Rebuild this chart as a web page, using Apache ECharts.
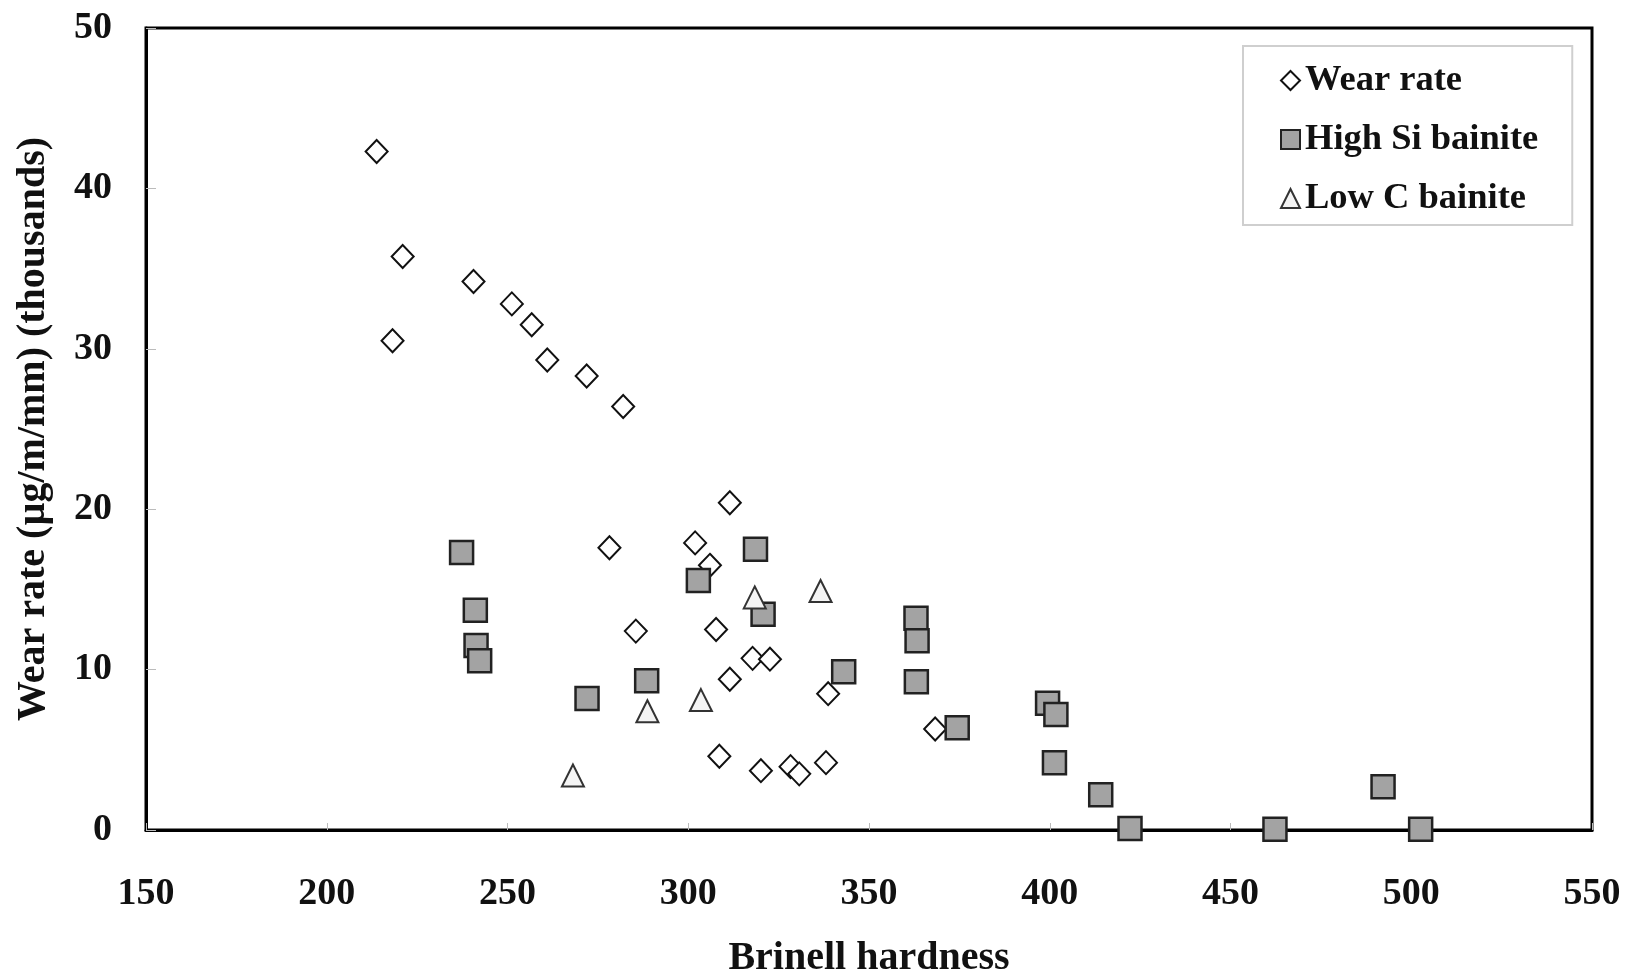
<!DOCTYPE html>
<html>
<head>
<meta charset="utf-8">
<script src="https://cdn.jsdelivr.net/npm/echarts@6/dist/echarts.min.js"></script>
<style>
html,body{margin:0;padding:0;background:#fff;}
#chart{width:1629px;height:979px;}
</style>
</head>
<body>
<div id="chart"></div>
<script>
// Brinell hardness (x) vs wear rate (y, thousands µg/m/mm)
const wearRateX = [213.8, 221, 218.2, 240.6, 251.2, 256.7, 261, 271.9, 282, 311.5, 278.2, 301.9, 306, 285.5, 307.7, 317.8, 322.6, 311.5, 338.7, 368.3, 308.6, 320.1, 328.3, 330.7, 338.1];
const wearRateY = [42.3, 35.75, 30.5, 34.2, 32.8, 31.5, 29.3, 28.3, 26.4, 20.4, 17.6, 17.9, 16.5, 12.4, 12.5, 10.7, 10.65, 9.4, 8.5, 6.3, 4.6, 3.7, 3.95, 3.5, 4.2];

const highSiX = [237.3, 241.1, 241.3, 242.3, 272, 288.5, 302.8, 318.6, 320.7, 343, 363, 363.3, 363.1, 374.4, 399.4, 401.7, 401.3, 414.1, 422.2, 462.3, 492.2, 502.6];
const highSiY = [17.3, 13.7, 11.5, 10.55, 8.2, 9.3, 15.55, 17.5, 13.45, 9.87, 13.2, 11.8, 9.25, 6.38, 7.9, 7.2, 4.2, 2.2, 0.1, 0.05, 2.7, 0.05];

const lowCX = [268.1, 288.7, 303.5, 318.4, 336.6];
const lowCY = [3.4, 7.4, 8.1, 14.5, 14.9];

const seriesNames = ['Wear rate', 'High Si bainite', 'Low C bainite'];
const xTitle = 'Brinell hardness';
const yTitle = 'Wear rate (µg/m/mm) (thousands)';

const zip = (xs, ys) => xs.map((x, i) => [x, ys[i]]);
const FONT = '"Liberation Serif", "Times New Roman", serif';

const chart = echarts.init(document.getElementById('chart'));
chart.setOption({
  backgroundColor: '#fff',
  animation: false,
  grid: {
    left: 146, right: 37, top: 28, bottom: 149,
    outerBoundsMode: 'none', containLabel: false,
    show: true, borderColor: '#000', borderWidth: 3
  },
  legend: {
    orient: 'vertical',
    left: 1243, top: 46,
    padding: [16, 34, 8, 37],
    itemGap: 22,
    itemWidth: 19, itemHeight: 19,
    borderColor: '#cfcfcf', borderWidth: 2,
    textStyle: { fontFamily: FONT, fontWeight: 'bold', fontSize: 36.5, color: '#111' },
    data: seriesNames
  },
  xAxis: {
    type: 'value', min: 150, max: 550, interval: 50,
    name: xTitle, nameLocation: 'middle', nameGap: 109,
    nameTextStyle: { fontFamily: FONT, fontWeight: 'bold', fontSize: 40, color: '#111' },
    axisLine: { show: true, lineStyle: { color: '#000', width: 3 } },
    axisTick: { show: true, inside: true, length: 7, lineStyle: { color: '#bbb', width: 1 } },
    axisLabel: { fontFamily: FONT, fontWeight: 'bold', fontSize: 38, color: '#111', margin: 45 },
    splitLine: { show: false }
  },
  yAxis: {
    type: 'value', min: 0, max: 50, interval: 10,
    name: yTitle, nameLocation: 'middle', nameGap: 92,
    nameTextStyle: { fontFamily: FONT, fontWeight: 'bold', fontSize: 40, color: '#111' },
    axisLine: { show: true, lineStyle: { color: '#000', width: 3 } },
    axisTick: { show: true, inside: true, length: 10, lineStyle: { color: '#bbb', width: 1 } },
    axisLabel: { fontFamily: FONT, fontWeight: 'bold', fontSize: 38, color: '#111', margin: 34 },
    splitLine: { show: false }
  },
  series: [
    {
      name: seriesNames[0], type: 'scatter', symbol: 'diamond', symbolSize: [22, 23],
      itemStyle: { color: '#fff', borderColor: '#111', borderWidth: 2, opacity: 1 },
      data: zip(wearRateX, wearRateY)
    },
    {
      name: seriesNames[1], type: 'scatter', symbol: 'rect', symbolSize: 23,
      itemStyle: { color: '#a3a3a3', borderColor: '#222', borderWidth: 2.5, opacity: 1 },
      data: zip(highSiX, highSiY)
    },
    {
      name: seriesNames[2], type: 'scatter', symbol: 'triangle', symbolSize: 22,
      itemStyle: { color: '#f4f4f4', borderColor: '#333', borderWidth: 2, opacity: 1 },
      data: zip(lowCX, lowCY)
    }
  ]
});
</script>
</body>
</html>
